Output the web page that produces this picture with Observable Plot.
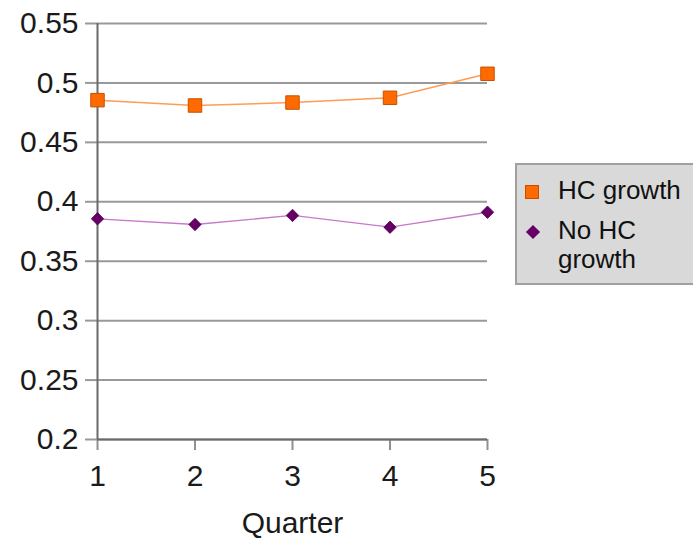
<!DOCTYPE html>
<html>
<head>
<meta charset="utf-8">
<script src="https://cdn.jsdelivr.net/npm/d3@7"></script>
<script src="https://cdn.jsdelivr.net/npm/@observablehq/plot@0.6"></script>
<style>
  html, body { margin: 0; padding: 0; background: #fff; overflow: hidden; }
  #wrap { position: relative; width: 693px; height: 544px; overflow: hidden; font-family: "Liberation Sans", Arial, Helvetica, sans-serif; }
  #legend { position: absolute; left: 515px; top: 163px; width: 200px; height: 122px; background: #d9d9d9; border: 2px solid #a0a0a0; box-sizing: border-box; }
  .sw { position: absolute; }
  .lt { position: absolute; left: 41px; font-size: 26px; color: #111; line-height: 29px; white-space: nowrap; }
</style>
</head>
<body>
<div id="wrap"></div>
<script>
const quarters = [1, 2, 3, 4, 5];
const hcGrowth = [0.4855, 0.481, 0.4835, 0.4875, 0.5077];
const noHcGrowth = [0.3857, 0.3809, 0.3885, 0.3786, 0.3912];
const yTicks = [0.2, 0.25, 0.3, 0.35, 0.4, 0.45, 0.5, 0.55];
const seriesNames = ["HC growth", "No HC growth"];
const lineColors = ["#ff9c55", "#c77ac7"];
const markColors = ["#ff6a00", "#660066"];

const hcData = quarters.map((q, i) => ({q, v: hcGrowth[i]}));
const noData = quarters.map((q, i) => ({q, v: noHcGrowth[i]}));

const chart = Plot.plot({
  width: 693,
  height: 544,
  marginLeft: 97,
  marginRight: 206,
  marginTop: 23,
  marginBottom: 105,
  style: {fontFamily: "'Liberation Sans', Arial, Helvetica, sans-serif", fontSize: "30px", color: "#1a1a1a", background: "#fff"},
  x: {domain: [1, 5]},
  y: {domain: [0.2, 0.55]},
  marks: [
    Plot.gridY(yTicks, {stroke: "#999", strokeOpacity: 1, strokeWidth: 2}),
    Plot.axisY(yTicks, {tickSize: 12, tickPadding: 7, stroke: "#999", strokeWidth: 2, tickFormat: d => String(d), label: null, fontSize: 30}),
    Plot.axisX(quarters, {tickSize: 11, tickPadding: 14, stroke: "#909090", strokeWidth: 2, tickFormat: d => String(d), label: "Quarter", labelAnchor: "center", labelArrow: "none", labelOffset: 93, fontSize: 30}),
    Plot.ruleX([1], {stroke: "#6a6a6a", strokeWidth: 2}),
    Plot.ruleY([0.2], {stroke: "#6a6a6a", strokeWidth: 2}),
    Plot.line(hcData, {x: "q", y: "v", stroke: lineColors[0], strokeWidth: 1.5}),
    Plot.line(noData, {x: "q", y: "v", stroke: lineColors[1], strokeWidth: 1.3}),
    Plot.dot(hcData, {x: "q", y: "v", symbol: "square", r: 7.6, fill: markColors[0], stroke: "#c85000", strokeWidth: 1}),
    Plot.dot(noData, {x: "q", y: "v", symbol: "diamond2", r: 5.6, fill: markColors[1], stroke: "#550055", strokeWidth: 0.8})
  ]
});

const wrap = document.getElementById("wrap");
wrap.appendChild(chart);

const legend = document.createElement("div");
legend.id = "legend";
legend.innerHTML = `
  <div class="sw" style="left:8px;top:20px;width:14px;height:14px;background:${markColors[0]};border:1px solid #c85000;box-sizing:border-box;"></div>
  <div class="lt" style="top:11px;">${seriesNames[0]}</div>
  <div class="sw" style="left:11px;top:62px;width:10px;height:10px;background:${markColors[1]};transform:rotate(45deg);"></div>
  <div class="lt" style="top:51px;">No HC<br>growth</div>
`;
wrap.appendChild(legend);
</script>
</body>
</html>
